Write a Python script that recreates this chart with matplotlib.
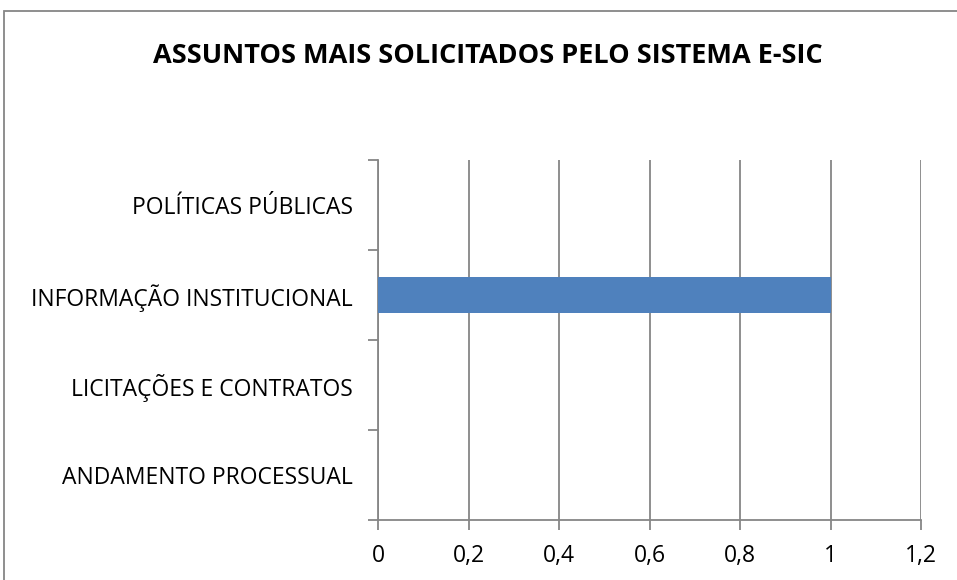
import matplotlib.pyplot as plt
from matplotlib.patches import Rectangle
from matplotlib.ticker import FuncFormatter, FixedLocator
import numpy as np

# data
categorias = ["ANDAMENTO PROCESSUAL", "LICITAÇÕES E CONTRATOS",
              "INFORMAÇÃO INSTITUCIONAL", "POLÍTICAS PÚBLICAS"]
valores = [0, 0, 1, 0]
x_ticks = [0, 0.2, 0.4, 0.6, 0.8, 1.0, 1.2]
titulo = "ASSUNTOS MAIS SOLICITADOS PELO SISTEMA E-SIC"

W, H = 957, 580
fig = plt.figure(figsize=(W / 100, H / 100), dpi=100)
ax = fig.add_axes([378 / W, 1 - 520 / H, (921 - 378) / W, (520 - 160) / H])

grey = "#868686"
y = np.arange(len(categorias))
ax.barh(y, valores, height=0.4, color="#4f81bd", zorder=3)

ax.set_xlim(0, 1.2)
ax.set_ylim(-0.5, len(categorias) - 0.5)
ax.set_xticks(x_ticks)
ax.xaxis.set_major_formatter(FuncFormatter(lambda v, p: f"{v:g}".replace(".", ",")))
ax.grid(axis="x", color=grey, linewidth=1.3, zorder=0)

# category labels centred, tick marks between categories
ax.set_yticks(y)
ax.set_yticklabels(categorias, fontsize=16.5, family="Open Sans")
ax.yaxis.set_minor_locator(FixedLocator(np.arange(-0.5, len(categorias), 1)))
ax.tick_params(axis="y", which="major", length=0, pad=18)
ax.tick_params(axis="y", which="minor", length=7, color=grey, width=1.3)
ax.tick_params(axis="x", length=7, color=grey, width=1.3, pad=10, labelsize=16.5)
for lab in ax.get_xticklabels():
    lab.set_family("Open Sans")

for s in ["top", "right"]:
    ax.spines[s].set_visible(False)
for s in ["left", "bottom"]:
    ax.spines[s].set_color(grey)
    ax.spines[s].set_linewidth(1.3)

fig.text(488 / W, 1 - 56 / H, titulo, ha="center", va="center",
         fontsize=19.5, fontweight="bold", family="Open Sans")

# outer chart border
fig.patches.append(Rectangle((4 / W, -0.05), 1.1, 1 - 11 / H + 0.05,
                             transform=fig.transFigure, fill=False,
                             edgecolor=grey, linewidth=1.3))

fig.savefig("out.png", dpi=100)
